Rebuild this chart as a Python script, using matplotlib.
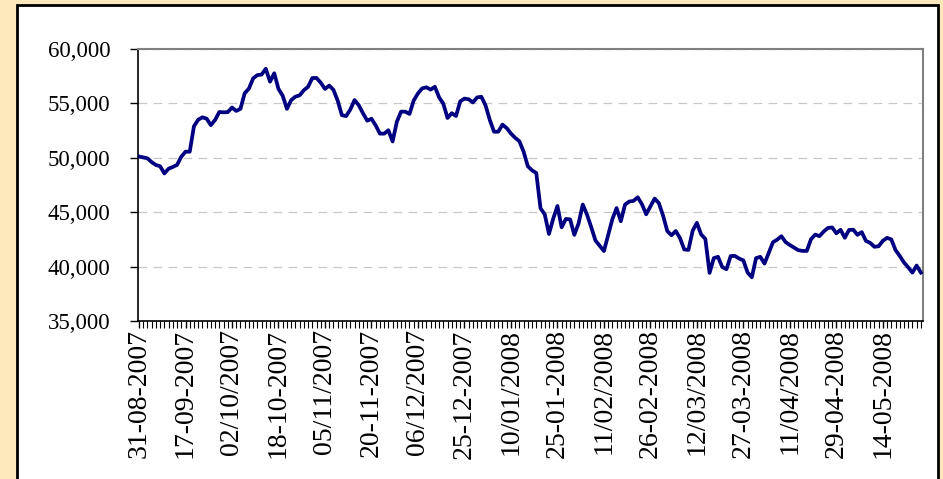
import matplotlib
matplotlib.use("Agg")
import matplotlib.pyplot as plt
from matplotlib.patches import Rectangle
from matplotlib.ticker import FuncFormatter, MultipleLocator, FixedLocator

# closing values, one per trading day
values = [
    50120, 50040, 49950, 49600, 49340, 49220, 48560, 49000, 49160, 49350,
    50100, 50560, 50560, 52900, 53500, 53720, 53600, 53000, 53480, 54210,
    54180, 54200, 54620, 54310, 54500, 55930, 56360, 57300, 57600, 57650,
    58180, 57000, 57770, 56330, 55700, 54500, 55300, 55620, 55740, 56210,
    56530, 57330, 57340, 56900, 56330, 56640, 56250, 55260, 53920, 53830,
    54440, 55310, 54830, 54090, 53410, 53590, 52980, 52220, 52220, 52530,
    51500, 53300, 54240, 54240, 54030, 55270, 55920, 56380, 56480, 56270,
    56530, 55560, 54970, 53660, 54100, 53840, 55190, 55440, 55380, 55090,
    55550, 55610, 54810, 53480, 52400, 52400, 53050, 52730, 52230, 51840,
    51520, 50560, 49220, 48850, 48600, 45360, 44800, 43000, 44400, 45570,
    43610, 44380, 44340, 42920, 43960, 45700, 44780, 43620, 42400, 41910,
    41430, 42900, 44360, 45380, 44170, 45700, 45980, 46040, 46370, 45730,
    44810, 45520, 46250, 45840, 44680, 43260, 42880, 43270, 42620, 41580,
    41530, 43300, 44020, 42960, 42540, 39420, 40780, 40900, 39960, 39760,
    40970, 40980, 40740, 40570, 39450, 39020, 40780, 40900, 40280, 41250,
    42240, 42480, 42790, 42250, 41980, 41750, 41510, 41440, 41440, 42520,
    42940, 42800, 43220, 43550, 43600, 43060, 43380, 42650, 43370, 43390,
    42920, 43170, 42360, 42180, 41820, 41870, 42370, 42640, 42500, 41520,
    40980, 40380, 39930, 39450, 40100, 39450,
]

date_labels = [
    "31-08-2007", "17-09-2007", "02/10/2007", "18-10-2007", "05/11/2007",
    "20-11-2007", "06/12/2007", "25-12-2007", "10/01/2008", "25-01-2008",
    "11/02/2008", "26-02-2008", "12/03/2008", "27-03-2008", "11/04/2008",
    "29-04-2008", "14-05-2008",
]
label_every = 11

plt.rcParams["font.family"] = ["Liberation Serif", "DejaVu Serif"]

fig = plt.figure(figsize=(9.43, 4.79), dpi=100)
fig.patch.set_facecolor("#FDE9BB")

# white chart panel with black frame
panel = Rectangle((17 / 943, -0.1), (938 - 17) / 943, 1.1 - 5 / 479,
                  transform=fig.transFigure, facecolor="white",
                  edgecolor="black", linewidth=2, zorder=-1)
fig.patches.append(panel)

ax = fig.add_axes([138 / 943, (479 - 321) / 479, (923 - 138) / 943, (321 - 49) / 479])
ax.set_zorder(1)
ax.set_facecolor("white")

x = list(range(len(values)))
ax.plot(x, values, color="#000080", linewidth=2.7, solid_joinstyle="round", zorder=3)

ax.set_xlim(-0.24, 185.5)
ax.set_ylim(35000, 60000)

ax.yaxis.set_major_locator(MultipleLocator(5000))
ax.yaxis.set_major_formatter(FuncFormatter(lambda v, p: f"{int(v):,}"))
ax.grid(axis="y", color="#C8C8C8", linestyle=(0, (7, 5)), linewidth=0.9)
ax.set_axisbelow(True)

major_pos = [i * label_every for i in range(len(date_labels))]
ax.xaxis.set_major_locator(FixedLocator(major_pos))
ax.set_xticklabels(date_labels, rotation=90, fontsize=20)
ax.xaxis.set_minor_locator(FixedLocator(x))

ax.tick_params(axis="y", direction="out", length=6, width=1, pad=14, labelsize=16.5)
ax.tick_params(axis="x", which="major", direction="out", length=5, width=1, pad=1)
ax.tick_params(axis="x", which="minor", direction="out", length=5, width=0.8)

for side in ("left", "bottom"):
    ax.spines[side].set_color("black")
    ax.spines[side].set_linewidth(1.2)
for side in ("top", "right"):
    ax.spines[side].set_color("#808080")
    ax.spines[side].set_linewidth(1.5)

fig.savefig("out.png", dpi=100, facecolor=fig.get_facecolor())
